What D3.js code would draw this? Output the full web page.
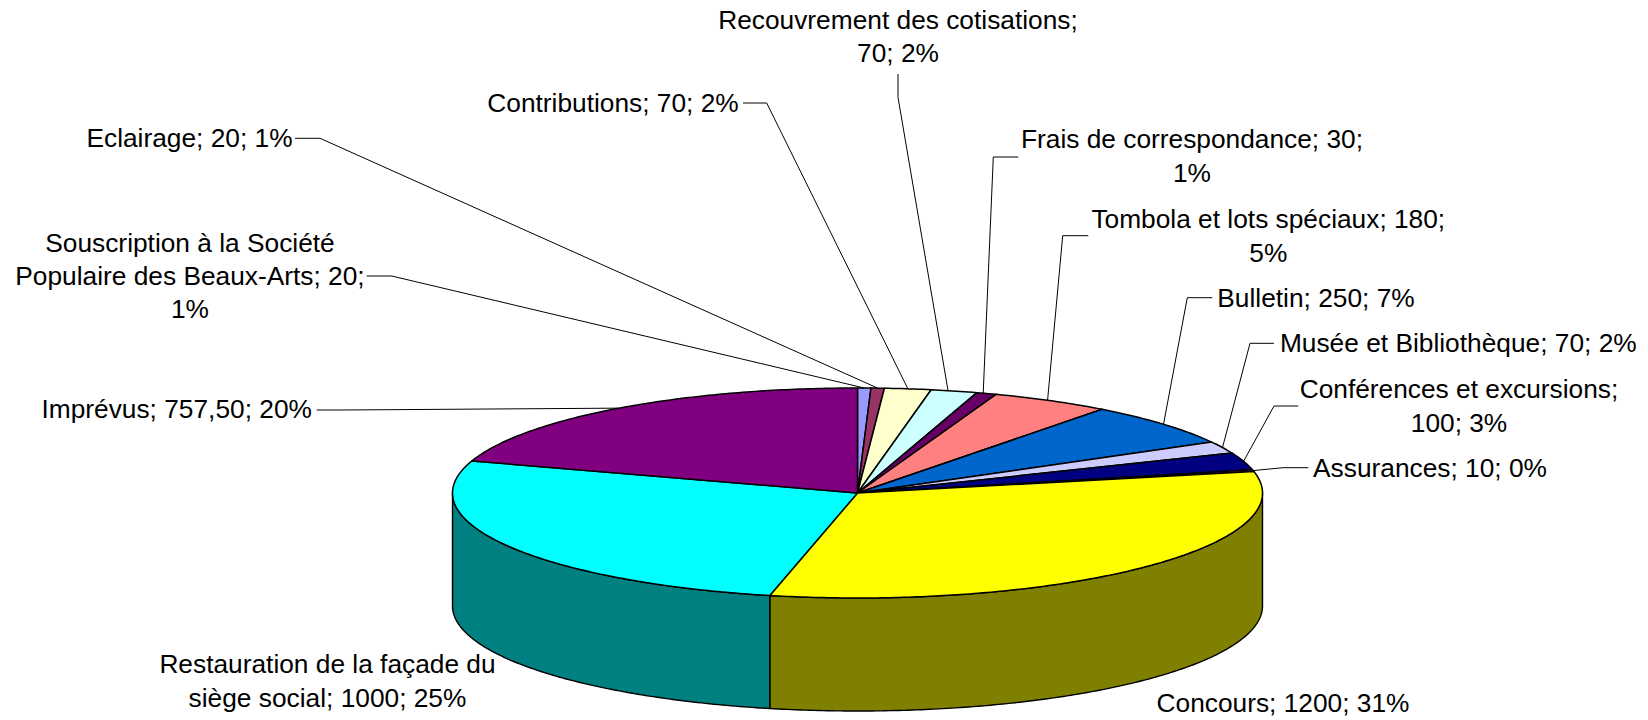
<!DOCTYPE html>
<html><head><meta charset="utf-8">
<script src="https://cdn.jsdelivr.net/npm/d3@7/dist/d3.min.js"></script>
<style>html,body{margin:0;padding:0;background:#fff}svg{display:block}</style>
</head><body><svg id="c" width="1648" height="720"></svg>
<script>
// Data, clockwise from the top of the pie
const categories = ["Souscription à la Société Populaire des Beaux-Arts","Eclairage","Contributions","Recouvrement des cotisations","Frais de correspondance","Tombola et lots spéciaux","Bulletin","Musée et Bibliothèque","Conférences et excursions","Assurances","Concours","Restauration de la façade du siège social","Imprévus"];
const values = [20,20,70,70,30,180,250,70,100,10,1200,1000,757.5];
const valueLabels = ["20","20","70","70","30","180","250","70","100","10","1200","1000","757,50"];
const percents = ["1%","1%","2%","2%","1%","5%","7%","2%","3%","0%","31%","25%","20%"];
const topColors = ["#9999ff","#993366","#ffffcc","#ccffff","#660066","#ff8080","#0066cc","#ccccff","#000080","#ff00ff","#ffff00","#00ffff","#800080"];
const wallColors = {10:"#808000",11:"#008080"};

// Layout of the labels: wrapped lines, centre x, first baseline
const labelLines = [
 ["Souscription à la Société","Populaire des Beaux-Arts; 20;","1%"],
 ["Eclairage; 20; 1%"],
 ["Contributions; 70; 2%"],
 ["Recouvrement des cotisations;","70; 2%"],
 ["Frais de correspondance; 30;","1%"],
 ["Tombola et lots spéciaux; 180;","5%"],
 ["Bulletin; 250; 7%"],
 ["Musée et Bibliothèque; 70; 2%"],
 ["Conférences et excursions;","100; 3%"],
 ["Assurances; 10; 0%"],
 ["Concours; 1200; 31%"],
 ["Restauration de la façade du","siège social; 1000; 25%"],
 ["Imprévus; 757,50; 20%"]
];
const labelX = [190,189.5,613,898,1192,1268.3,1316,1458.3,1459,1430,1283,327.5,176.7];
const labelY = [251.7,146.7,111.7,29,148.3,228.3,306.7,351.7,398.3,476.7,711.7,673.3,418.3];
// Leader lines: start at label, elbow, then the rim of the slice (angle tweak in degrees)
const leaderStart = [[366.7,276],[295,138.3],[743,103],[898,74],[1018.3,157],[1088.3,235.7],[1212.3,297.7],[1274,343.3],[1298.3,406],[1308.3,467.7],null,null,[316.7,410]];
const leaderElbow = [[391.7,276],[320,138.3],[766.7,103],[898,97.3],[993.3,157],[1062.7,235.7],[1187.3,297.7],[1250,343.3],[1274,406],[1283,467.7],null,null,[341.7,410]];
const leaderTweak = [0,0,0,-0.9,-0.5,-0.6,0,0,0,0,0,0,0];

const cx=857.5, cy=493, rx=405, ry=105, depth=113;
const sx=d3.scaleLinear().domain([-1,1]).range([cx-rx,cx+rx]);
const sy=d3.scaleLinear().domain([-1,1]).range([cy-ry,cy+ry]);
const svg=d3.select("#c");
const arcs=d3.pie().sort(null).value(d=>d).startAngle(0).endAngle(2*Math.PI)(values);
const rim=a=>[sx(Math.sin(a)),sy(-Math.cos(a))];
const samples=(a0,a1)=>{const n=Math.max(2,Math.ceil((a1-a0)*90));return d3.range(n+1).map(i=>a0+(a1-a0)*i/n);};
const line=d3.line();

// Side wall: only the front half of the disc (90° to 270°)
arcs.forEach((d,i)=>{
  const a0=Math.max(d.startAngle,Math.PI/2),a1=Math.min(d.endAngle,1.5*Math.PI);
  if(a1<=a0) return;
  const upper=samples(a0,a1).map(rim);
  const lower=upper.slice().reverse().map(p=>[p[0],p[1]+depth]);
  svg.append("path").attr("d",line(upper.concat(lower))+"Z")
    .attr("fill",wallColors[i]).attr("stroke","#000").attr("stroke-width",1.4).attr("stroke-linejoin","round");
});
// Top face
arcs.forEach((d,i)=>{
  const pts=[[cx,cy]].concat(samples(d.startAngle,d.endAngle).map(rim));
  svg.append("path").attr("d",line(pts)+"Z").attr("fill",topColors[i])
    .attr("stroke","#000").attr("stroke-width",1.5).attr("stroke-linejoin","round");
});
// Leader lines
arcs.forEach((d,i)=>{
  if(!leaderStart[i]) return;
  const a=(d.startAngle+d.endAngle)/2+leaderTweak[i]*Math.PI/180;
  svg.append("path").attr("d",line([leaderStart[i],leaderElbow[i],rim(a)]))
    .attr("fill","none").attr("stroke","#000").attr("stroke-width",1);
});
// Labels
labelLines.forEach((ls,i)=>{
  const t=svg.append("text").attr("text-anchor","middle")
    .attr("font-family","'Liberation Sans',Arial,sans-serif").attr("font-size",26.3).attr("fill","#000");
  ls.forEach((s,k)=>t.append("tspan").attr("x",labelX[i]).attr("y",labelY[i]+k*33.3).text(s));
});
</script></body></html>
